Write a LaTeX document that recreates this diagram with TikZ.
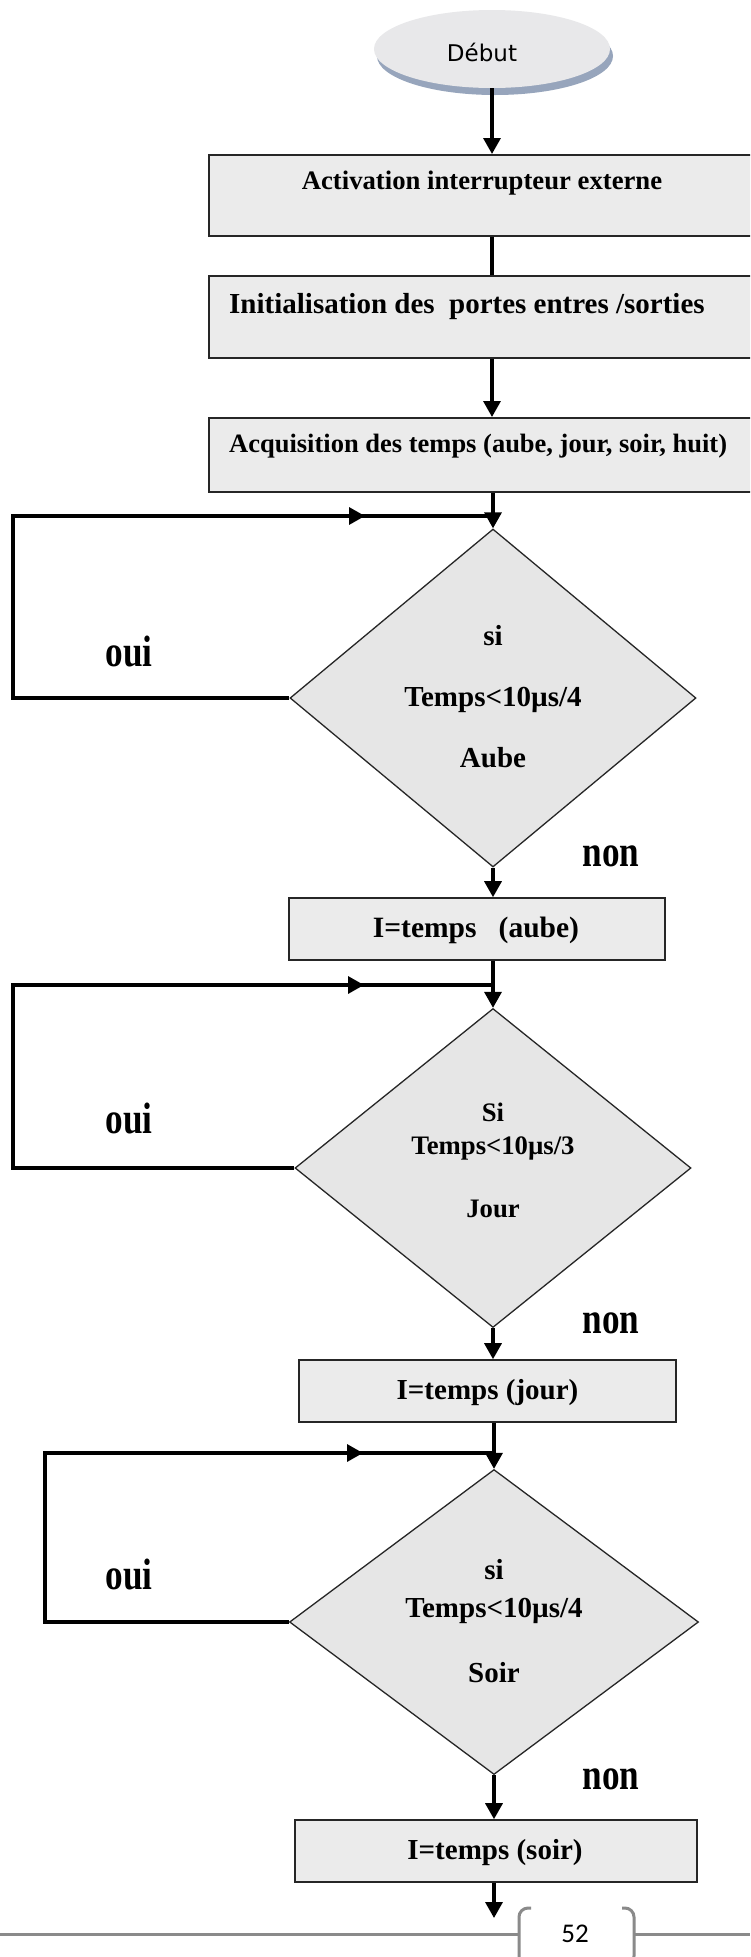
\documentclass[tikz,border=0pt]{standalone}
\usepackage{graphicx}
\usepackage{fontspec}
\setmainfont{Liberation Serif}
\newfontfamily\debutfont{DejaVu Sans}
\newfontfamily\pagefont{Carlito}
\usetikzlibrary{shapes.geometric,arrows.meta,shadows}
\definecolor{boxgray}{HTML}{EBEBEB}
\definecolor{diagray}{HTML}{E6E6E6}
\definecolor{ellgray}{HTML}{E8E8EA}
\definecolor{shadowc}{HTML}{97A5BC}
\definecolor{footgray}{HTML}{8A8A8A}
\newcommand\myfs[1]{\fontsize{#1}{#1}\selectfont}
\begin{document}
\begin{tikzpicture}[x=1pt,y=-1pt,
  boxst/.style={rectangle, draw=black!85, line width=1.6pt, fill=boxgray, inner sep=0pt},
  diast/.style={diamond, draw=black!85, line width=1.3pt, fill=diagray, inner sep=0pt, aspect=1},
  conn/.style={line width=3.3pt, black},
  arr/.style={conn, -{Triangle[width=17pt,length=16pt]}},
  lbl/.style={inner sep=0pt, anchor=base},
  foot/.style={draw=footgray, line width=3pt},
]
\clip (0,0) rectangle (750,1957);
\fill[white] (0,0) rectangle (750,1957);

% start
\node[ellipse, fill=ellgray, minimum width=236pt, minimum height=78pt, inner sep=0pt,
      drop shadow={shadow xshift=3pt, shadow yshift=-7pt, fill=shadowc, opacity=1}] (start) at (492,49) {};
\node[lbl, font=\debutfont\myfs{23}] (tdeb) at (482,61) {Début};

% top boxes
\node[boxst, minimum width=560pt, minimum height=81pt, anchor=north west] (b1) at (208,154) {};
\node[lbl, font=\bfseries\myfs{26.7}] (t1) at (482,189) {Activation interrupteur externe};
\node[boxst, minimum width=560pt, minimum height=82pt, anchor=north west] (b2) at (208,275) {};
\node[lbl, anchor=base west, font=\bfseries\myfs{29}] (t2) at (229,313) {Initialisation des~ portes entres /sorties};
\node[boxst, minimum width=560pt, minimum height=74pt, anchor=north west] (b3) at (208,417) {};
\node[lbl, anchor=base west, font=\bfseries\myfs{26.5}] (t3) at (229,452) {Acquisition des temps (aube, jour, soir, huit)};

\draw[arr] (start.south) -- (start.south |- b1.north);
\draw[conn] (b1.south -| start.south) -- (b2.north -| start.south);
\draw[arr] (b2.south -| start.south) -- (b3.north -| start.south);

% decision 1
\node[diast, minimum width=406pt, minimum height=338pt] (d1) at (493,698) {};
\node[lbl, font=\bfseries\myfs{29}] (d1a) at (493,645) {si};
\node[lbl, font=\bfseries\myfs{29}] (d1b) at (493,706) {Temps<10µs/4};
\node[lbl, font=\bfseries\myfs{29}] (d1c) at (493,767) {Aube};
\coordinate (j1) at (493,516);
\coordinate (l1a) at (13,698);
\coordinate (l1b) at (13,516);
\coordinate (m1) at (365,516);
\draw[conn] (b3.south -| d1.north) -- (j1);
\draw[arr] (j1) -- (d1.north);
\draw[conn] (d1.west) -- (l1a) -- (l1b) -- (j1);
\draw[arr] (l1b) -- (m1);
\node[lbl, font=\bfseries\myfs{44}] (oui1) at (129,666) {\scalebox{0.8}[1]{oui}};
\node[lbl, font=\bfseries\myfs{44}] (non1) at (611,866) {\scalebox{0.8}[1]{non}};

\node[boxst, minimum width=376pt, minimum height=62pt] (ba) at (477,929) {};
\node[lbl, font=\bfseries\myfs{29.5}] (tba) at (476,937) {I=temps~~ (aube)};
\draw[arr] (d1.south) -- (d1.south |- ba.north);

% decision 2
\node[diast, minimum width=396pt, minimum height=319pt] (d2) at (493,1168) {};
\node[lbl, font=\bfseries\myfs{26.7}] (d2a) at (493,1121) {Si};
\node[lbl, font=\bfseries\myfs{26.7}] (d2b) at (493,1154) {Temps<10µs/3};
\node[lbl, font=\bfseries\myfs{26.7}] (d2c) at (493,1217) {Jour};
\coordinate (j2) at (493,985);
\coordinate (l2a) at (13,1168);
\coordinate (l2b) at (13,985);
\coordinate (m2) at (364,985);
\draw[conn] (ba.south -| d2.north) -- (j2);
\draw[arr] (j2) -- (d2.north);
\draw[conn] (d2.west) -- (l2a) -- (l2b) -- (j2);
\draw[arr] (l2b) -- (m2);
\node[lbl, font=\bfseries\myfs{44}] (oui2) at (129,1133) {\scalebox{0.8}[1]{oui}};
\node[lbl, font=\bfseries\myfs{44}] (non2) at (611,1333) {\scalebox{0.8}[1]{non}};

\node[boxst, minimum width=377pt, minimum height=62pt] (bj) at (487.5,1391) {};
\node[lbl, font=\bfseries\myfs{29}] (tbj) at (487.5,1399) {I=temps (jour)};
\draw[arr] (d2.south) -- (d2.south |- bj.north);

% decision 3
\node[diast, minimum width=409pt, minimum height=305pt] (d3) at (494,1622) {};
\node[lbl, font=\bfseries\myfs{29}] (d3a) at (494,1579) {si};
\node[lbl, font=\bfseries\myfs{29}] (d3b) at (494,1617) {Temps<10µs/4};
\node[lbl, font=\bfseries\myfs{29}] (d3c) at (494,1682) {Soir};
\coordinate (j3) at (494,1453);
\coordinate (l3a) at (45,1622);
\coordinate (l3b) at (45,1453);
\coordinate (m3) at (363,1453);
\draw[conn] (bj.south -| d3.north) -- (j3);
\draw[arr] (j3) -- (d3.north);
\draw[conn] (d3.west) -- (l3a) -- (l3b) -- (j3);
\draw[arr] (l3b) -- (m3);
\node[lbl, font=\bfseries\myfs{44}] (oui3) at (129,1589) {\scalebox{0.8}[1]{oui}};
\node[lbl, font=\bfseries\myfs{44}] (non3) at (611,1789) {\scalebox{0.8}[1]{non}};

\node[boxst, minimum width=402pt, minimum height=62pt] (bs) at (496,1851) {};
\node[lbl, font=\bfseries\myfs{29}] (tbs) at (495,1859) {I=temps (soir)};
\draw[arr] (d3.south) -- (d3.south |- bs.north);
\coordinate (endc) at (494,1918);
\draw[arr] (bs.south -| d3.south) -- (endc);

% footer
\draw[foot] (0,1934) -- (519,1934);
\draw[foot] (634,1934) -- (750,1934);
\draw[foot, rounded corners=9pt] (531,1908) -- (519,1908) -- (519,1965) -- (531,1965);
\draw[foot, rounded corners=9pt] (622,1908) -- (634,1908) -- (634,1965) -- (622,1965);
\node[lbl, font=\pagefont\myfs{27}] (pnum) at (575,1942) {52};
\end{tikzpicture}
\end{document}
